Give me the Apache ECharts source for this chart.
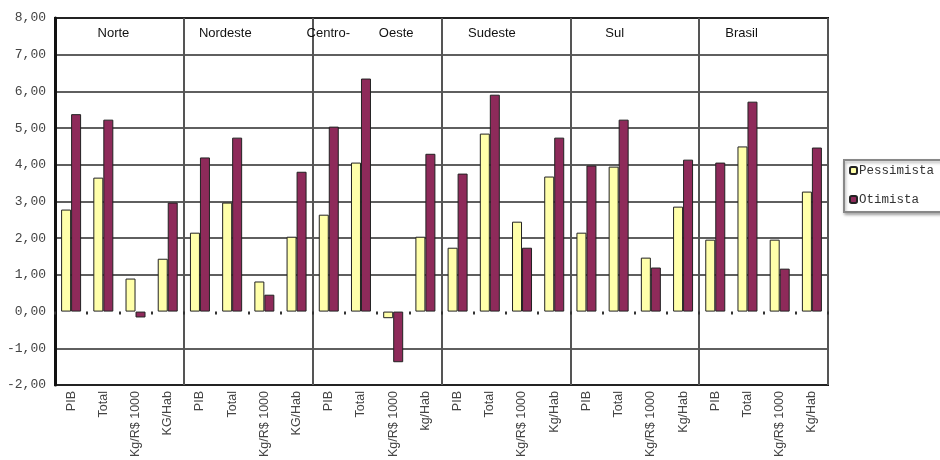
<!DOCTYPE html>
<html>
<head>
<meta charset="utf-8">
<script src="https://cdn.jsdelivr.net/npm/echarts@6/dist/echarts.min.js"></script>
<style>html,body{margin:0;padding:0;background:#fff}#c{width:940px;height:460px}</style>
</head>
<body>
<div id="c"></div>
<script>
const regions = ['Norte', 'Nordeste', 'Centro-Oeste', 'Sudeste', 'Sul', 'Brasil'];
const categories = [
  'PIB', 'Total', 'Kg/R$ 1000', 'KG/Hab',
  'PIB', 'Total', 'Kg/R$ 1000', 'KG/Hab',
  'PIB', 'Total', 'Kg/R$ 1000', 'kg/Hab',
  'PIB', 'Total', 'Kg/R$ 1000', 'Kg/Hab',
  'PIB', 'Total', 'Kg/R$ 1000', 'Kg/Hab',
  'PIB', 'Total', 'Kg/R$ 1000', 'Kg/Hab'
];
const pessimista = [
  2.78, 3.65, 0.90, 1.44,
  2.15, 2.97, 0.82, 2.04,
  2.64, 4.06, -0.18, 2.04,
  1.74, 4.85, 2.45, 3.68,
  2.15, 3.95, 1.47, 2.86,
  1.96, 4.50, 1.96, 3.27
];
const otimista = [
  5.38, 5.23, -0.16, 2.97,
  4.20, 4.74, 0.46, 3.81,
  5.04, 6.35, -1.38, 4.30,
  3.76, 5.91, 1.74, 4.74,
  3.98, 5.23, 1.20, 4.14,
  4.06, 5.72, 1.17, 4.47
];
const yTicks = {min: -2, max: 8, interval: 1};

const regionShift = {'Norte': 12, 'Nordeste': 46, 'Centro-Oeste': 34, 'Sudeste': 28, 'Sul': 40, 'Brasil': 44};
const rich = {};
regions.forEach((r, i) => {
  rich['r' + i] = {padding: [0, regionShift[r], 0, 0], fontFamily: 'Liberation Sans, Arial', fontSize: 13, color: '#111'};
});

const chart = echarts.init(document.getElementById('c'), null, {renderer: 'canvas'});
const splitColors = [];
for (let v = yTicks.min; v <= yTicks.max; v += yTicks.interval) {
  splitColors.push(v === 0 ? 'rgba(0,0,0,0)' : '#2a2a2a');
}
chart.setOption({
  animation: false,
  backgroundColor: '#fff',
  grid: {left: 55, right: 112, top: 18, bottom: 75, show: true, borderColor: '#111', borderWidth: 2, backgroundColor: 'transparent'},
  legend: {
    orient: 'vertical', left: 844, top: 160,
    data: ['Pessimista', 'Otimista'],
    itemWidth: 7, itemHeight: 7, itemGap: 16,
    padding: [4, 30, 6, 5],
    backgroundColor: '#fff', borderColor: '#888', borderWidth: 2,
    shadowColor: 'rgba(0,0,0,0.3)', shadowBlur: 3, shadowOffsetX: 1, shadowOffsetY: 2,
    textStyle: {fontFamily: 'Liberation Mono, Courier New, monospace', fontSize: 12.5, color: '#333', padding: [0, 0, 0, -3]}
  },
  xAxis: [
    {
      type: 'category', data: categories, position: 'bottom', gridIndex: 0,
      axisLine: {onZero: false, show: false},
      axisTick: {show: false},
      axisLabel: {interval: 0, rotate: 90, fontSize: 12.5, fontFamily: 'Liberation Sans, Arial', color: '#444', margin: 6},
      splitLine: {show: true, interval: (i) => i % 4 === 0, lineStyle: {color: '#555', width: 2}}
    },
    {
      type: 'category', data: regions, position: 'top', gridIndex: 0,
      axisLine: {show: false, onZero: false}, axisTick: {show: false},
      axisLabel: {
        interval: 0, inside: true, margin: 9,
        formatter: (v) => {
          const i = regions.indexOf(v);
          const t = v === 'Centro-Oeste' ? 'Centro-        Oeste' : v;
          return '{r' + i + '|' + t + '}';
        },
        rich: rich
      }
    },
    {
      type: 'category', data: categories, position: 'bottom', gridIndex: 0,
      axisLine: {show: true, onZero: true, lineStyle: {color: 'rgba(0,0,0,0)'}},
      axisTick: {show: true, interval: 0, length: 3, lineStyle: {color: '#333', width: 2}},
      axisLabel: {show: false}
    }
  ],
  yAxis: {
    type: 'value', min: yTicks.min, max: yTicks.max, interval: yTicks.interval,
    axisLine: {show: true, onZero: false, lineStyle: {color: '#111', width: 3}},
    axisTick: {show: false},
    axisLabel: {
      formatter: (v) => v.toFixed(2).replace('.', ','),
      fontFamily: 'Liberation Mono, Courier New, monospace', fontSize: 13, color: '#444', margin: 9
    },
    splitLine: {show: true, lineStyle: {color: splitColors, width: 1.5}}
  },
  series: [
    {
      name: 'Pessimista', type: 'bar', data: pessimista, xAxisIndex: 0,
      barWidth: 10, barGap: '0%',
      itemStyle: {color: '#ffffaa', borderColor: '#222', borderWidth: 1}
    },
    {
      name: 'Otimista', type: 'bar', data: otimista, xAxisIndex: 0,
      barWidth: 10, barGap: '0%',
      itemStyle: {color: '#8e2a5a', borderColor: '#222', borderWidth: 1}
    }
  ]
});
</script>
</body>
</html>
